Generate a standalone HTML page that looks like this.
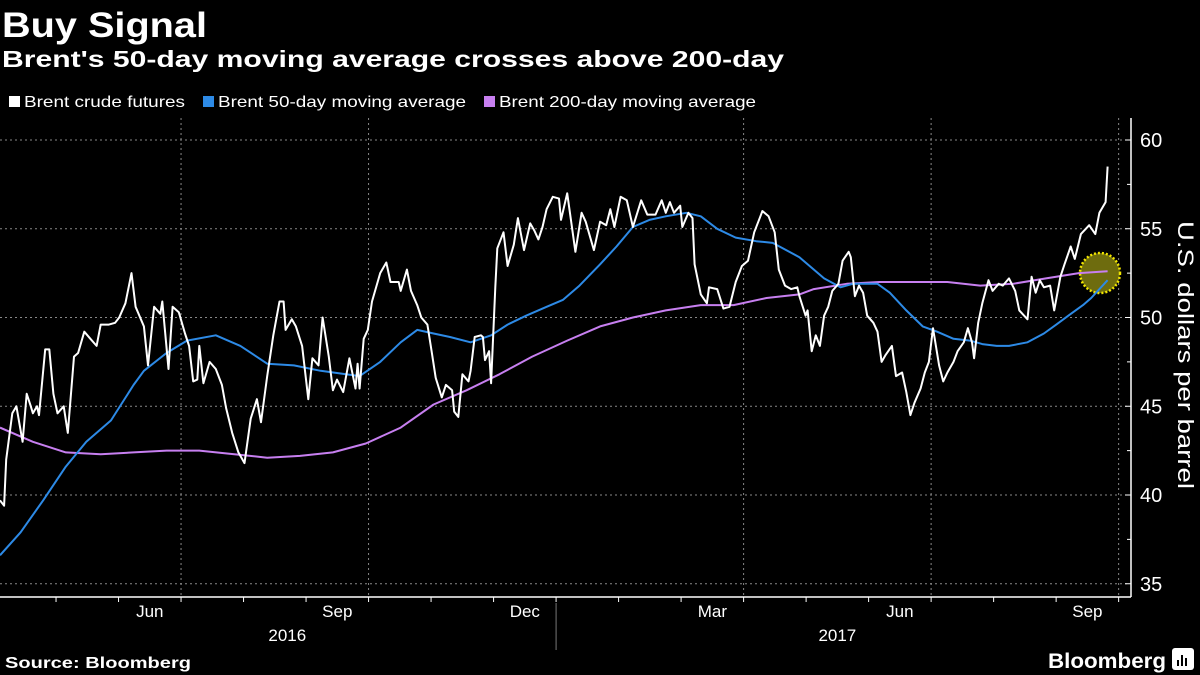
<!DOCTYPE html>
<html><head><meta charset="utf-8"><style>
html,body{margin:0;padding:0;background:#000;}
svg{display:block;font-family:"Liberation Sans",sans-serif;}
</style></head><body>
<svg id="chart" width="1200" height="675" viewBox="0 0 1200 675">
<rect width="1200" height="675" fill="#000"/>
<text x="2" y="37" fill="#fff" font-size="35" font-weight="bold" textLength="205" lengthAdjust="spacingAndGlyphs">Buy Signal</text>
<text x="2" y="67" fill="#fff" font-size="23" font-weight="bold" textLength="782" lengthAdjust="spacingAndGlyphs">Brent's 50-day moving average crosses above 200-day</text>
<g>
<g><rect x="9" y="96" width="11" height="11" fill="#fff"/><text x="24" y="107" fill="#fff" font-size="16" textLength="161" lengthAdjust="spacingAndGlyphs">Brent crude futures</text></g>
<g><rect x="203" y="96" width="11" height="11" fill="#2d8ae6"/><text x="218" y="107" fill="#fff" font-size="16" textLength="248" lengthAdjust="spacingAndGlyphs">Brent 50-day moving average</text></g>
<g><rect x="484" y="96" width="11" height="11" fill="#c77ff0"/><text x="499" y="107" fill="#fff" font-size="16" textLength="257" lengthAdjust="spacingAndGlyphs">Brent 200-day moving average</text></g>
</g>
<g id="grid"></g>
<g id="axes"></g>
<circle cx="1100" cy="273" r="20" fill="#6e6c0e" stroke="#f2e600" stroke-width="2.5" stroke-dasharray="2,2"/>
<g id="series"></g>
<text x="1178" y="355" fill="#fff" font-size="22" text-anchor="middle" transform="rotate(90 1178 355)" textLength="268" lengthAdjust="spacingAndGlyphs">U.S. dollars per barrel</text>
<text x="5" y="668" fill="#fff" font-size="16" font-weight="bold" textLength="186" lengthAdjust="spacingAndGlyphs">Source: Bloomberg</text>
<text x="1048" y="668" fill="#fff" font-size="21" font-weight="bold" textLength="118" lengthAdjust="spacingAndGlyphs">Bloomberg</text>
<g><rect x="1172" y="648" width="22" height="22" rx="3" fill="#fff"/><rect x="1177" y="660" width="2" height="6" fill="#000"/><rect x="1181" y="655" width="2" height="11" fill="#000"/><rect x="1185" y="658" width="2" height="8" fill="#000"/></g>
</svg>
<script>
const brentDays=[0,2,3,6,8,11,13,15,16,18,19,22,24,26,28,31,33,36,38,41,44,47,49,53,56,58,61,64,66,70,72,75,78,79,82,84,87,90,92,94,96,97,99,102,105,108,110,113,116,119,122,125,127,130,133,136,138,139,142,144,147,150,152,155,157,160,162,164,167,170,173,174,175,177,179,181,185,188,190,194,
195,198,200,203,205,208,210,212,215,217,220,221,223,225,228,229,231,234,235,236,238,239,241,242,245,247,250,252,255,258,260,262,264,266,269,272,273,276,280,283,285,289,292,295,297,299,302,305,308,312,315,319,322,324,326,328,331,332,335,337,338,341,344,345,349,352,355,358,361,364,367,370,371,374,377,379,382,385,388,
389,392,393,395,397,399,401,403,405,408,410,413,414,416,418,420,422,425,427,429,431,434,436,439,441,443,445,448,450,452,454,457,459,461,464,466,469,471,473,474,476,478,481,483,486,488,491,494,496,500,502,504,506,508,511,513,516,518,521,523,526,530,533,535,538,539];
const brentPrices=[39.7,39.4,42,44.6,45,43,45.7,45,44.6,45,44.5,48.2,48.2,45.7,44.6,45,43.5,47.8,48,49.2,48.8,48.4,49.6,49.6,49.7,50,50.8,52.5,50.6,49.5,47.3,50.6,50.2,50.9,47.1,50.6,50.3,49.1,48.4,46.4,46.5,48.4,46.3,47.5,47.1,46.2,44.9,43.5,42.4,41.8,44.3,45.4,44.1,46.7,49,50.9,50.9,49.3,49.9,49.5,48.4,45.4,47.7,47.3,50,47.8,45.9,46.5,45.8,47.7,46,47.4,46,48.8,49.3,50.9,52.5,53.1,52,52,
51.5,52.7,51.5,50.7,50,49.6,48.1,46.6,45.5,46.2,45.9,44.7,44.4,46.8,46.4,47,48.9,49,48.9,47.6,48.1,46.3,51.7,53.9,54.8,52.9,54.1,55.6,53.8,55.3,54.9,54.4,55.1,56.1,56.8,56.7,55.5,57,53.7,55.9,55.4,53.8,55.4,55.2,56.1,55.1,56.8,56.6,55.1,56.6,55.8,55.8,56.6,55.9,56.5,55.9,56.3,55.1,55.9,55.6,53,51.3,50.8,51.7,51.6,50.5,50.6,52,52.9,53.2,54.8,55.7,56,55.7,54.8,52.7,51.8,51.6,51.7,
51.2,50.1,50.4,48.1,49,48.4,50.1,50.6,51.5,51.9,53.2,53.7,53.4,51.2,51.8,51.4,50.1,49.7,49.2,47.5,47.9,48.4,46.7,46.9,45.8,44.5,45.2,46,46.9,47.5,49.4,47.3,46.4,46.9,47.5,48.1,48.6,49.4,48.6,47.7,49.7,50.8,52.1,51.5,51.9,51.8,52.2,51.5,50.4,49.9,52.3,51.4,52.1,51.7,51.8,50.4,52.3,53,54,53.3,54.7,55.2,54.7,55.9,56.5,58.5];
const ma50Days=[0,10,21,32,42,54,65,70,81,91,105,117,130,143,156,175,185,195,203,211,219,229,239,247,256,266,274,282,292,300,308,316,324,334,341,349,358,368,376,389,401,409,415,427,433,441,449,456,464,472,478,485,491,500,508,514,521,527,531,539];
const ma50Values=[36.6,37.9,39.7,41.6,43,44.2,46.2,47,48,48.7,49,48.4,47.4,47.3,47,46.7,47.5,48.6,49.3,49.1,48.9,48.6,49,49.6,50.1,50.6,51,51.8,53,54,55.1,55.5,55.7,55.9,55.7,55,54.5,54.3,54.2,53.4,52.2,51.7,51.9,51.9,51.4,50.4,49.5,49.2,48.8,48.7,48.5,48.4,48.4,48.6,49.1,49.6,50.2,50.7,51.1,52.1];
const ma200Days=[0,16,32,49,65,81,97,114,130,146,162,178,195,211,227,243,259,276,292,308,324,341,357,373,389,396,412,428,444,461,477,493,509,525,539];
const ma200Values=[43.8,43,42.4,42.3,42.4,42.5,42.5,42.3,42.1,42.2,42.4,42.9,43.8,45.1,45.9,46.8,47.8,48.7,49.5,50,50.4,50.7,50.7,51.1,51.3,51.6,51.9,52,52,52,51.8,51.9,52.2,52.5,52.6];
const yTicks=[35,40,45,50,55,60];
const monthLabels=["Jun","Sep","Dec","Mar","Jun","Sep"];
const yearLabels=["2016","2017"];

const NS="http://www.w3.org/2000/svg";
const PX_PER_DAY=2.055;
const JAN1_2017=270.6; // day offset of Jan 1 2017 from series start
function xScale(d){return d*PX_PER_DAY;}
function yScale(v){return 140+(60-v)*17.75;}
function mk(tag,attrs,parent){const e=document.createElementNS(NS,tag);for(const k in attrs)e.setAttribute(k,attrs[k]);parent.appendChild(e);return e;}
const grid=document.getElementById('grid'),axes=document.getElementById('axes'),series=document.getElementById('series');
const MONTH=365/12/1;
// month boundaries relative to Jan 1 2017, in months: May2016=-8 ... Oct2017=+9
for(let m=-8;m<=9;m++){
  const x=xScale(JAN1_2017+m*MONTH*1);
  if(x<0||x>1132)continue;
  if((m+12)%3===0 && m!==0){
    const g=mk('line',{x1:x,y1:118,x2:x,y2:597,stroke:'#888','stroke-width':1,'stroke-dasharray':'2,3'},grid);
    
    
  }
  const t=mk('line',{x1:x,y1:597,x2:x,y2:602,stroke:'#fff','stroke-width':1},axes);
  
  
}
// month labels centered in Jun, Sep, Dec, Mar, Jun, Sep
const labelMonthIdx=[-7,-4,-1,2,5,8];
monthLabels.forEach((lab,i)=>{
  const x=xScale(JAN1_2017+(labelMonthIdx[i]+0.5)*MONTH);
  const t=mk('text',{x:x,y:617,fill:'#fff','font-size':17,'text-anchor':'middle'},axes);
  t.textContent=lab;
  
  
});
const yearX=[xScale(JAN1_2017-4.3*MONTH),xScale(JAN1_2017+4.5*MONTH)];
yearLabels.forEach((lab,i)=>{
  const t=mk('text',{x:yearX[i],y:641,fill:'#fff','font-size':17,'text-anchor':'middle'},axes);
  t.textContent=lab;
  
  
});
const yd=mk('line',{x1:xScale(JAN1_2017),y1:603,x2:xScale(JAN1_2017),y2:650,stroke:'#777','stroke-width':1},axes);


// y gridlines and ticks
yTicks.forEach(v=>{
  const y=yScale(v);
  const g=mk('line',{x1:0,y1:y,x2:1130,y2:y,stroke:'#888','stroke-width':1,'stroke-dasharray':'2,3'},grid);
  
  
  const t=mk('line',{x1:1125,y1:y,x2:1131,y2:y,stroke:'#fff','stroke-width':1},axes);
  
  
  const l=mk('text',{x:1140,y:y+7,fill:'#fff','font-size':20},axes);
  l.textContent=v;
  
  
  if(v<60){const m=mk('line',{x1:1127,y1:yScale(v+2.5),x2:1131,y2:yScale(v+2.5),stroke:'#fff','stroke-width':1},axes);
    
    }
});
const ya=mk('line',{x1:1131,y1:118,x2:1131,y2:597,stroke:'#fff','stroke-width':1.5},axes);


const xa=mk('line',{x1:0,y1:597,x2:1131,y2:597,stroke:'#fff','stroke-width':1.5},axes);


function line(days,vals,color,w,name){
  const d=days.map((dd,i)=>(i?'L':'M')+xScale(dd).toFixed(1)+','+yScale(vals[i]).toFixed(1)).join('');
  const p=mk('path',{d:d,fill:'none',stroke:color,'stroke-width':w,'stroke-linejoin':'round'},series);
  
  
}
line(ma200Days,ma200Values,'#c77ff0',2,'ma200-line');
line(ma50Days,ma50Values,'#2d8ae6',2,'ma50-line');
line(brentDays,brentPrices,'#ffffff',2,'brent-price-line');
</script>
</body></html>
